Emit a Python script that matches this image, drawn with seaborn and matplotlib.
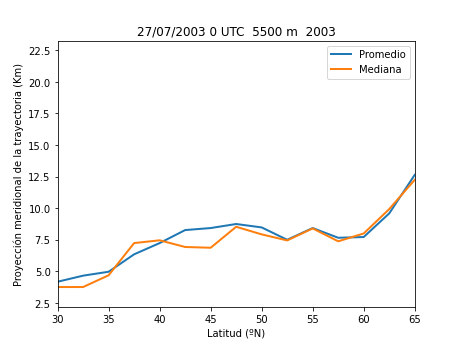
import matplotlib
matplotlib.use("Agg")
import matplotlib.pyplot as plt
import seaborn as sns
import pandas as pd

latitud = [30, 32.5, 35, 37.5, 40, 42.5, 45, 47.5, 50, 52.5, 55, 57.5, 60, 62.5, 65]
promedio = [4.18, 4.66, 4.97, 6.35, 7.24, 8.27, 8.43, 8.75, 8.48, 7.5, 8.43, 7.66, 7.72, 9.59, 12.64]
mediana = [3.76, 3.76, 4.69, 7.24, 7.46, 6.93, 6.87, 8.53, 7.93, 7.45, 8.4, 7.38, 8.0, 9.93, 12.25]

df = pd.DataFrame({"lat": latitud * 2,
                   "val": promedio + mediana,
                   "serie": ["Promedio"] * len(latitud) + ["Mediana"] * len(latitud)})

fig, ax = plt.subplots(figsize=(6.4, 4.8), dpi=72)
sns.lineplot(data=df, x="lat", y="val", hue="serie", ax=ax,
             palette=["#1f77b4", "#ff7f0e"], linewidth=2)
ax.set_xlim(30, 65)
ax.set_ylim(2.18, 23.25)
ax.set_xticks([30, 35, 40, 45, 50, 55, 60, 65])
ax.set_yticks([2.5, 5, 7.5, 10, 12.5, 15, 17.5, 20, 22.5])
ax.set_xlabel("Latitud (ºN)")
ax.set_ylabel("Proyección meridional de la trayectoria (Km)")
ax.set_title("27/07/2003 0 UTC  5500 m  2003")
ax.legend(loc="upper right")
fig.savefig("out.png", dpi=72)
